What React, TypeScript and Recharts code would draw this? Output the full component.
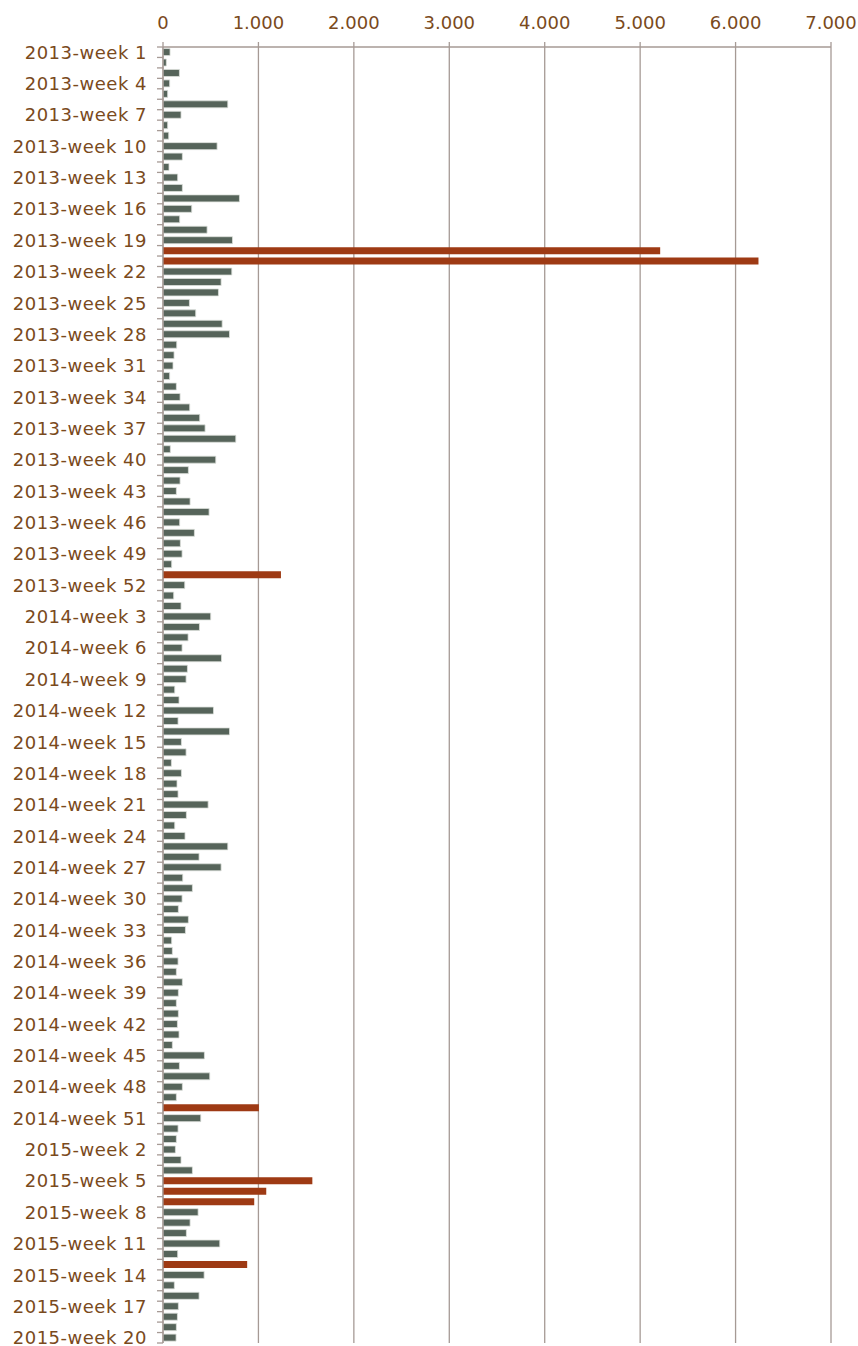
import React from 'react';
import { BarChart, Bar, XAxis, YAxis, CartesianGrid, Cell } from 'recharts';

// ---- data ----
const years = [2013, 2014, 2015];
const weeksInYear = [52, 52, 20];

const values2013 = [
  74, 35, 172, 70, 49, 679, 189, 49, 60, 567,
  203, 63, 154, 203, 801, 301, 175, 462, 728, 5210,
  6240, 721, 609, 581, 277, 343, 620, 697, 144, 116,
  105, 70, 140, 179, 280, 385, 441, 763, 77, 553,
  266, 179, 140, 284, 483, 175, 329, 182, 200, 91,
  1236, 228,
];
const values2014 = [
  112, 189, 500, 382, 263, 200, 613, 256, 242, 123,
  168, 529, 158, 697, 193, 242, 88, 193, 147, 158,
  473, 245, 123, 231, 679, 378, 609, 207, 308, 200,
  161, 266, 235, 91, 98, 158, 140, 203, 161, 140,
  161, 151, 168, 98, 434, 172, 490, 203, 140, 1005,
  396, 158,
];
const values2015 = [
  140, 130, 189, 308, 1565, 1082, 956, 368, 284, 245,
  595, 154, 882, 431, 119, 378, 161, 151, 140, 137,
];
const xTicks = [0, 1000, 2000, 3000, 4000, 5000, 6000, 7000];
const highlightThreshold = 850;

const seriesByYear = [values2013, values2014, values2015];
const data: { week: string; value: number }[] = [];
years.forEach((yr, yi) => {
  for (let w = 1; w <= weeksInYear[yi]; w++) {
    data.push({ week: `${yr}-week ${w}`, value: seriesByYear[yi][w - 1] });
  }
});

// ---- layout ----
const WIDTH = 858;
const HEIGHT = 1346;
const MARGIN = { top: 17, right: 27, bottom: 3, left: 0 };
const X_AXIS_H = 30;
const Y_AXIS_W = 163;
const PLOT_H = HEIGHT - MARGIN.top - MARGIN.bottom - X_AXIS_H;
const BAND = PLOT_H / data.length;

const TEXT_COLOR = '#7A4A1C';
const AXIS_COLOR = '#A69A95';
const GRAY = '#56645A';
const RED = '#9E3A14';
const FONT = '"DejaVu Sans", Verdana, sans-serif';

const fmt = (v: number) => String(v).replace(/\B(?=(\d{3})+(?!\d))/g, '.');

const CategoryTick = (props: any) => {
  const { x, y, payload, index } = props;
  const i = typeof index === 'number' ? index : payload.index;
  const half = BAND / 2;
  const last = i === data.length - 1;
  return (
    <g>
      <line x1={x - 6} x2={x} y1={y - half} y2={y - half} stroke={AXIS_COLOR} strokeWidth={1.3} />
      {last && (
        <line x1={x - 6} x2={x} y1={y + half} y2={y + half} stroke={AXIS_COLOR} strokeWidth={1.3} />
      )}
      {i % 3 === 0 && (
        <text
          x={x - 16}
          y={y}
          dy="0.36em"
          textAnchor="end"
          fill={TEXT_COLOR}
          fontSize={18}
          letterSpacing={0.5}
          fontFamily={FONT}
        >
          {payload.value}
        </text>
      )}
    </g>
  );
};

export default function App() {
  return (
    <div style={{ position: 'fixed', left: 0, top: 0, width: WIDTH, height: HEIGHT, background: '#fff' }}>
      <BarChart
        width={WIDTH}
        height={HEIGHT}
        data={data}
        layout="vertical"
        margin={MARGIN}
        barCategoryGap="15%"
      >
        <CartesianGrid horizontal={false} vertical stroke={AXIS_COLOR} strokeWidth={1.3} />
        <XAxis
          type="number"
          orientation="top"
          domain={[0, 7000]}
          ticks={xTicks}
          interval={0}
          height={X_AXIS_H}
          tickFormatter={fmt}
          tickSize={5}
          tickMargin={13}
          axisLine={{ stroke: AXIS_COLOR, strokeWidth: 1.3 }}
          tickLine={{ stroke: AXIS_COLOR, strokeWidth: 1.3 }}
          tick={{ fill: TEXT_COLOR, fontSize: 18, fontFamily: FONT }}
        />
        <YAxis
          type="category"
          dataKey="week"
          width={Y_AXIS_W}
          interval={0}
          tickSize={0}
          tickMargin={0}
          tickLine={false}
          axisLine={{ stroke: AXIS_COLOR, strokeWidth: 1.3 }}
          tick={<CategoryTick />}
        />
        <Bar dataKey="value" isAnimationActive={false}>
          {data.map((d, i) => (
            <Cell
              key={i}
              fill={d.value > highlightThreshold ? RED : GRAY}
              stroke={d.value > highlightThreshold ? 'none' : '#DCE0DA'}
              strokeWidth={0.8}
            />
          ))}
        </Bar>
      </BarChart>
    </div>
  );
}
